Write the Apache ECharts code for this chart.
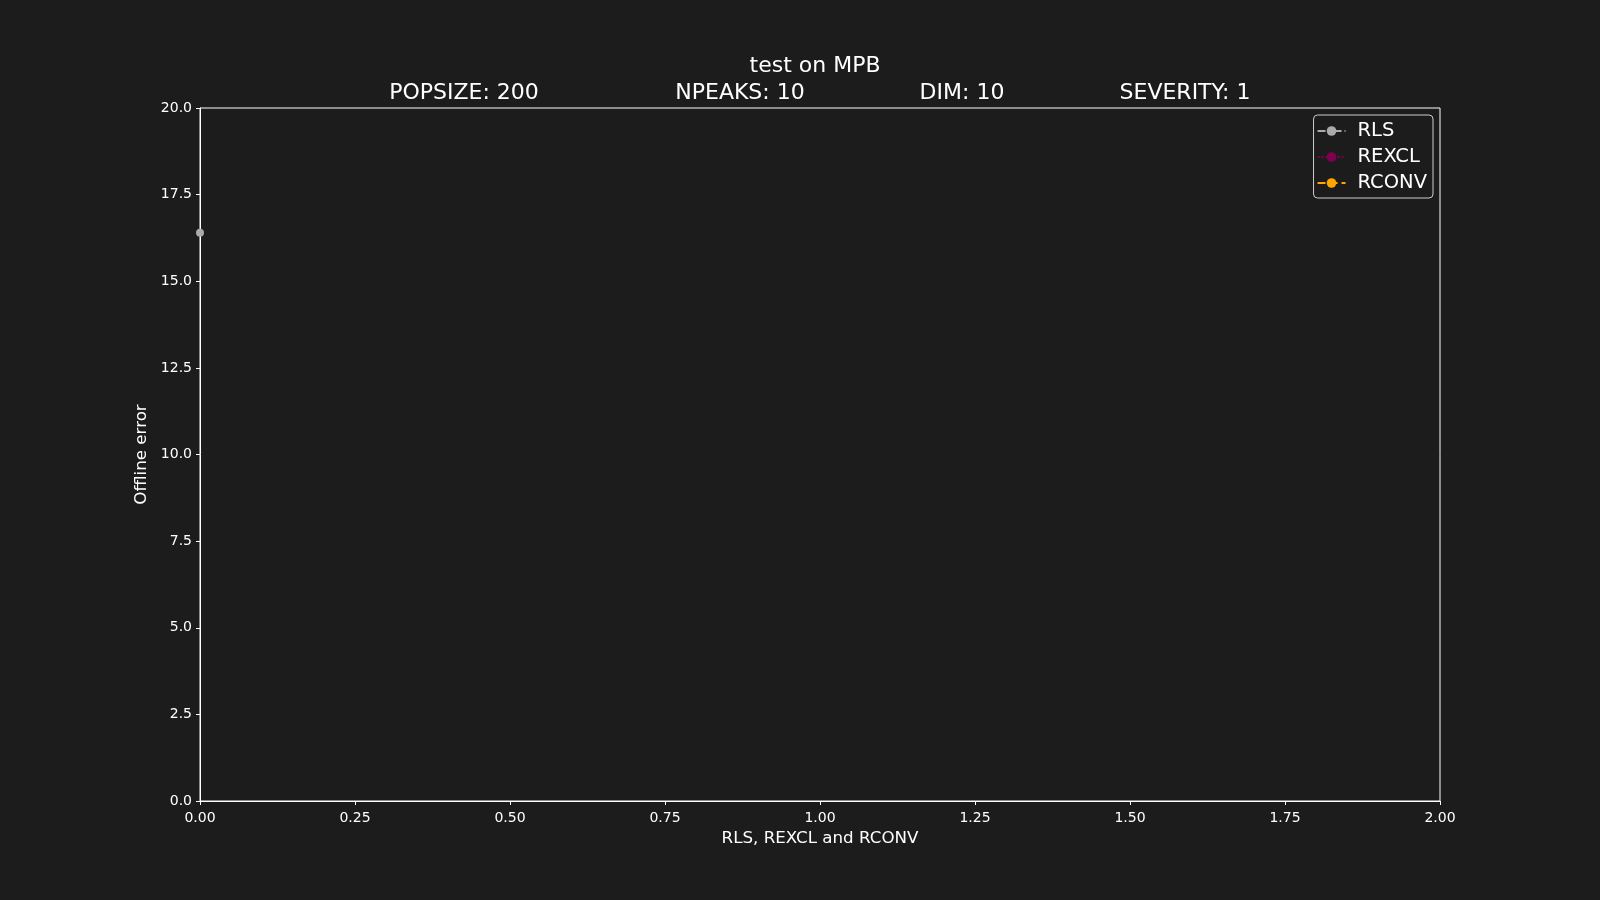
<!DOCTYPE html>
<html><head><meta charset="utf-8">
<script src="https://cdn.jsdelivr.net/npm/echarts@6/dist/echarts.min.js"></script>
<style>html,body{margin:0;padding:0;background:#1c1c1c;}#c{width:1600px;height:900px;}</style>
</head><body><div id="c"></div>
<script>
const seriesNames = ['RLS', 'REXCL', 'RCONV'];
const rlsData = [[0, 16.4]];
const rexclData = [];
const rconvData = [];
const subtitleTexts = ['POPSIZE: 200', 'NPEAKS: 10', 'DIM: 10', 'SEVERITY: 1'];
const xTicks = [0, 0.25, 0.5, 0.75, 1, 1.25, 1.5, 1.75, 2];
const yTicks = [0, 2.5, 5, 7.5, 10, 12.5, 15, 17.5, 20];

const font = 'DejaVu Sans';
const chart = echarts.init(document.getElementById('c'), null, {renderer: 'canvas'});
const subX = [459, 735, 957, 1180];
const titles = [{text: 'test on MPB', left: 810, top: 50, textAlign: 'center',
  textStyle: {color: '#ffffff', fontFamily: font, fontSize: 22, fontWeight: 'normal'}}];
subtitleTexts.forEach((t, i) => titles.push({text: t, left: subX[i], top: 77, textAlign: 'center',
  textStyle: {color: '#ffffff', fontFamily: font, fontSize: 22, fontWeight: 'normal'}}));

chart.setOption({
  backgroundColor: '#1c1c1c',
  animation: false,
  title: titles,
  grid: {left: 200, right: 160, top: 108, bottom: 99, show: true, borderColor: '#ffffff', borderWidth: 1, backgroundColor: 'transparent'},
  legend: {
    data: seriesNames, orient: 'vertical', right: 167, top: 115,
    backgroundColor: '#1c1c1c', borderColor: '#cccccc', borderWidth: 1, borderRadius: 4,
    padding: [5, 6, 4, 3], itemGap: 4, itemWidth: 28, itemHeight: 12,
    textStyle: {color: '#ffffff', fontFamily: font, fontSize: 19.5, padding: [0, 0, 0, 7], lineHeight: 22}
  },
  xAxis: {
    type: 'value', min: 0, max: 2, interval: 0.25,
    name: 'RLS, REXCL and RCONV', nameLocation: 'middle', nameGap: 26,
    nameTextStyle: {color: '#ffffff', fontFamily: font, fontSize: 16.7},
    axisLine: {lineStyle: {color: '#ffffff'}},
    axisTick: {show: true, inside: false, length: 4, lineStyle: {color: '#ffffff'}},
    axisLabel: {color: '#ffffff', fontFamily: font, fontSize: 14, margin: 10,
      formatter: v => v.toFixed(2)},
    splitLine: {show: false}
  },
  yAxis: {
    type: 'value', min: 0, max: 20, interval: 2.5,
    name: 'Offline error', nameLocation: 'middle', nameGap: 47,
    nameTextStyle: {color: '#ffffff', fontFamily: font, fontSize: 16.7},
    axisLine: {show: true, lineStyle: {color: '#ffffff'}},
    axisTick: {show: true, inside: false, length: 4, lineStyle: {color: '#ffffff'}},
    axisLabel: {color: '#ffffff', fontFamily: font, fontSize: 14, margin: 8,
      formatter: v => v.toFixed(1)},
    splitLine: {show: false}
  },
  series: [
    {name: 'RLS', type: 'line', data: rlsData, symbol: 'circle', symbolSize: 8,
      itemStyle: {color: '#aaaaaa'}, lineStyle: {color: '#aaaaaa', width: 1.5, type: [8, 3, 2, 3]}, clip: false},
    {name: 'REXCL', type: 'line', data: rexclData, symbol: 'circle', symbolSize: 8,
      itemStyle: {color: '#800050'}, lineStyle: {color: '#800050', width: 1.5, type: 'dotted'}, clip: false},
    {name: 'RCONV', type: 'line', data: rconvData, symbol: 'circle', symbolSize: 8,
      itemStyle: {color: '#ffa500'}, lineStyle: {color: '#ffa500', width: 1.5, type: 'dashed'}, clip: false}
  ]
});
</script></body></html>
